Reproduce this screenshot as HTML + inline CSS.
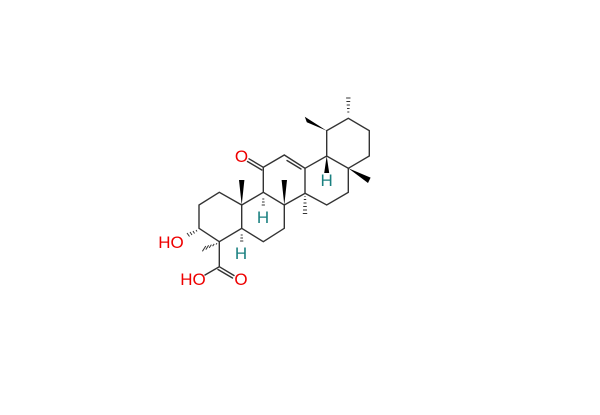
<!DOCTYPE html>
<html><head><meta charset="utf-8"><style>html,body{margin:0;padding:0;background:#fff}svg{display:block}</style></head><body>
<svg width="600" height="415" viewBox="0 0 600 415" xmlns="http://www.w3.org/2000/svg">
<g stroke="#333" stroke-width="1.4" fill="none" stroke-linecap="round">
<path d="M241.7,205 L219.3,192.3 L199,205 L199,228.3 L219.3,241.7 L241.7,228.3 Z"/>
<path d="M241.7,205 L263.3,192.3 L284.3,205 L284.3,228.3 L263.3,241.7 L241.7,228.3"/>
<path d="M263.3,192.3 L263.3,167.3 L284.3,155 L305,168.3 L305,193.3 L284.3,205"/>
<path d="M287,160.5 L301,169"/>
<path d="M263.3,167.3 L249,158.8 M261.8,170 L247.5,161.5"/>
<path d="M305,168.3 L326.7,156 L348.3,168.3 L348.3,192.3 L326.7,205 L305,193.3"/>
<path d="M326.7,156 L326.7,130.7 L348.3,118.3 L369.3,130.7 L369.3,156 L348.3,168.3"/>
<path d="M219.3,241.7 L219.3,266.7 L205,275 M219.3,266.7 L234,275.5 M218,269.5 L232.5,278"/>
</g>
<g fill="#000">
<polygon points="241.7,205 239,180 244.4,180"/>
<polygon points="284.3,205 281.6,180 287,180"/>
<polygon points="326.7,130.7 304.8,116.8 306.8,122.2"/>
<polygon points="348.3,168.3 368,183 370.6,177.6"/>
<polygon points="326.7,156 324.2,173 329.2,173"/>
</g>
<g stroke="#333" stroke-width="1">
<path d="M305,196v1 M303.8,199.5h2.4 M303.5,203h3 M303.2,206.5h3.6 M303,210h4 M302.8,213.5h4.4"/>
<path d="M348.3,115v0 M347.3,112h2 M347,108.5h2.6 M346.7,105h3.2 M346.4,101.5h3.8 M346.1,98h4.4"/>
<path d="M263.3,196h0 M262.3,199h2 M262,202h2.6 M261.7,205h3.2"/>
<path d="M241.7,232h0 M240.7,235h2 M240.4,238h2.6 M240.1,241h3.2"/>
<path d="M196,230l1,1.5 M193,231l1.5,2.5 M190,232l2,3 M187,233l2.5,3.5"/>
<path d="M216,244.5l1,-1.3 M212.6,246.2l1.6,-2.3 M209.2,247.9l2.2,-3.3 M205.8,249.6l2.8,-4.3 M202.4,251.3l3.4,-5.3"/>
</g>
<g font-family="Liberation Sans, sans-serif" font-size="17">
<text x="241.5" y="162" fill="#e00" text-anchor="middle">O</text>
<text x="171" y="248" fill="#e00" text-anchor="middle">HO</text>
<text x="193" y="285" fill="#e00" text-anchor="middle">HO</text>
<text x="241" y="285" fill="#e00" text-anchor="middle">O</text>
<text x="263" y="223" fill="#1a8080" text-anchor="middle">H</text>
<text x="241" y="259" fill="#1a8080" text-anchor="middle">H</text>
<text x="326.7" y="186" fill="#1a8080" text-anchor="middle">H</text>
</g>
</svg>
</body></html>
